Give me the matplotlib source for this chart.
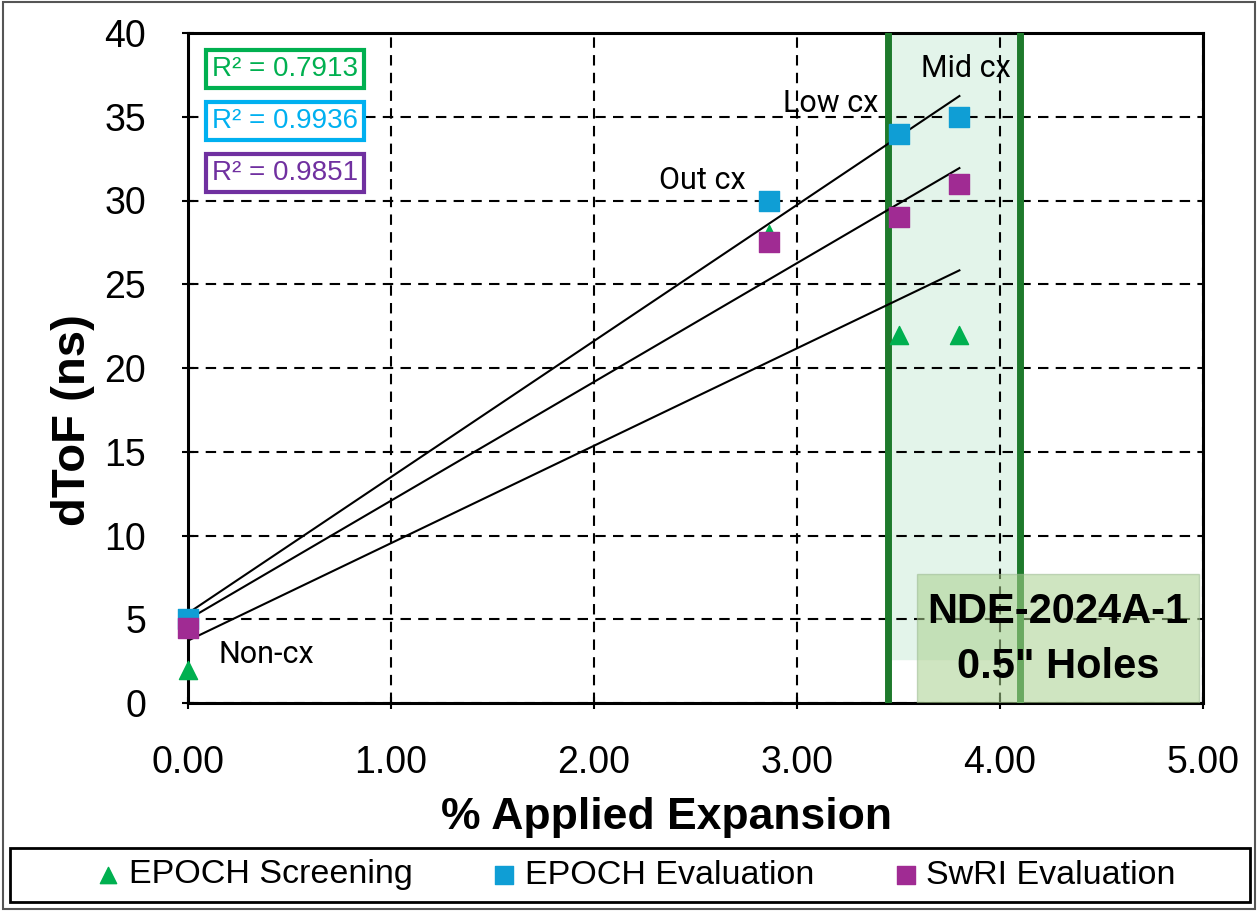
import numpy as np
import matplotlib
matplotlib.use("Agg")
from matplotlib import pyplot as plt
from matplotlib.patches import Rectangle

# data
expansion = [0.0, 2.86, 3.5, 3.8]
epoch_screening = [2.0, 28.0, 22.0, 22.0]
epoch_evaluation = [5.0, 30.0, 34.0, 35.0]
swri_evaluation = [4.5, 27.5, 29.0, 31.0]
r2_labels = ["R² = 0.7913", "R² = 0.9936", "R² = 0.9851"]
point_labels = ["Non-cx", "Out cx", "Low cx", "Mid cx"]
band = [3.45, 4.10]

plt.rcParams['font.family'] = ['Liberation Sans', 'DejaVu Sans']

fig = plt.figure(figsize=(12.58, 9.11), dpi=100)
ax = fig.add_axes([188/1258, 1-703/911, (1203-188)/1258, (703-33)/911])

# shaded region + thick green borders
ax.fill_between(band, 2.6, 40, color='#e3f4ea', zorder=0)
for b in band:
    ax.axvline(b, color='#1e7a2c', lw=5, zorder=3)

# trendlines (linear fits)
xs = np.array([0, 3.8])
for ys in [epoch_screening, epoch_evaluation, swri_evaluation]:
    m, c = np.polyfit(expansion, ys, 1)
    ax.plot(xs, m*xs + c, color='black', lw=1.5, zorder=4)

ax.scatter(expansion, epoch_screening, marker='^', s=170, color='#00b050', zorder=5,
           clip_on=False, label='EPOCH Screening')
ax.scatter(expansion, epoch_evaluation, marker='s', s=210, color='#0f9ed5', zorder=5,
           clip_on=False, label='EPOCH Evaluation')
ax.scatter(expansion, swri_evaluation, marker='s', s=210, color='#a02b93', zorder=6,
           clip_on=False, label='SwRI Evaluation')

ax.set_xlim(0, 5)
ax.set_ylim(0, 40)
ax.set_xticks(np.arange(0, 5.01, 1))
ax.set_xticklabels(['%.2f' % t for t in np.arange(0, 5.01, 1)])
ax.set_yticks(range(0, 41, 5))
ax.tick_params(axis='both', labelsize=27, direction='inout', length=8, width=1.5)
ax.tick_params(axis='x', pad=26)
ax.tick_params(axis='y', pad=26)
ax.grid(True, color='black', ls=(0, (5, 3.5)), lw=1.5)
ax.set_axisbelow(True)
for s in ax.spines.values():
    s.set_linewidth(2.2)
ax.set_xlabel('% Applied Expansion', fontsize=32, fontweight='bold')
ax.set_ylabel('dToF (ns)', fontsize=34, fontweight='bold')
ax.xaxis.set_label_coords(0.471, -0.140)
ax.yaxis.set_label_coords(-0.092, 0.422)

# point labels
lab_kw = dict(fontsize=22, va='center', family='Roboto', zorder=7)
ax.text(0.148, 2.87, point_labels[0], **lab_kw)
ax.text(2.32, 31.2, point_labels[1], **lab_kw)
ax.text(2.93, 35.8, point_labels[2], **lab_kw)
ax.text(3.61, 37.9, point_labels[3], **lab_kw)

# R² boxes
for lab, col, yy in zip(r2_labels, ['#00b050', '#00b0f0', '#7030a0'], [37.85, 34.76, 31.64]):
    ax.text(0.118, yy, lab, fontsize=20, color=col, va='center',
            bbox=dict(boxstyle='square,pad=0.22', fc='white', ec=col, lw=3), zorder=7)

# specimen box
ax.add_patch(Rectangle((0.718, 0.0), 0.278, 0.1925, transform=ax.transAxes,
                       fc='#a9d08e', alpha=0.55, ec='#9ab88f', lw=1, zorder=8))
ax.text(0.857, 0.136, 'NDE-2024A-1', transform=ax.transAxes, ha='center', va='center',
        fontsize=30, fontweight='bold', zorder=9)
ax.text(0.857, 0.054, '0.5" Holes', transform=ax.transAxes, ha='center', va='center',
        fontsize=30, fontweight='bold', zorder=9)

# legend
leg = fig.legend(loc='center', bbox_to_anchor=(637/1258, 1-875/911), ncol=3, fontsize=24.5,
                 frameon=False, handlelength=0.6, handletextpad=0.3, columnspacing=2.4,
                 markerscale=0.9, borderaxespad=0)
fig.patches.append(Rectangle((10/1258, 1-902/911), 1240/1258, 54/911, transform=fig.transFigure,
                             fill=False, ec='black', lw=2))

# outer border
fig.patches.append(Rectangle((0.002, 0.002), 0.996, 0.996, transform=fig.transFigure,
                             fill=False, ec='#555555', lw=1.5))

fig.savefig('out.png', dpi=100)
